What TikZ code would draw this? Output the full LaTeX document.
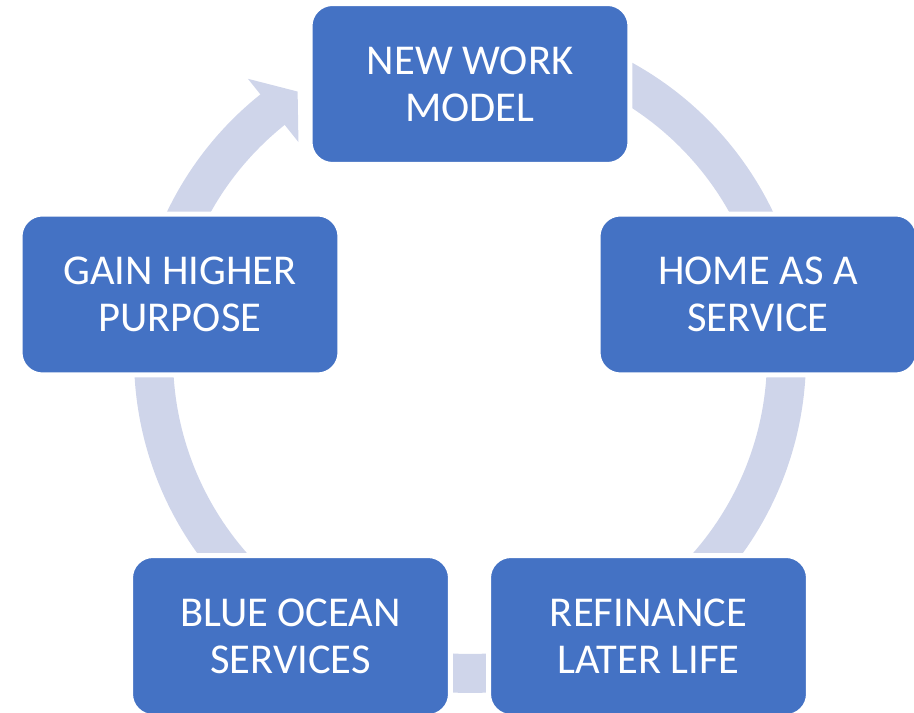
\documentclass[tikz,border=0pt]{standalone}
\usepackage{fontspec}
\setmainfont{Carlito}
\usepackage{tikz}
\usetikzlibrary{calc}
\usetikzlibrary{positioning}
\definecolor{boxblue}{HTML}{4472C4}
\definecolor{ringblue}{HTML}{CFD5EA}
\tikzstyle{stepnode} = [draw=white, line width=0.1cm, fill=boxblue, rounded corners=0.45cm, minimum width=6.4cm, minimum height=3.22cm, text=white, align=center, font=\fontsize{24.2}{26.7}\selectfont]
\tikzstyle{ringarc} = [draw=ringblue, line width=0.78cm]
\tikzstyle{ringhead} = [fill=ringblue]

\begin{document}
\begin{tikzpicture}[x=0.02cm, y=0.02cm]
    \useasboundingbox (0,0) rectangle (914,713);
    \coordinate (ring) at (470,356);
    % arcs of the cycle, clockwise
    \draw[ringarc] ($(ring)+(165:316.5)$) arc[start angle=165, end angle=128.3, radius=316.5];
    \fill[ringhead] ($(ring)+(128.6:275)$) -- ($(ring)+(123:316.5)$) -- ($(ring)+(128.6:356)$) -- cycle;
    \draw[ringarc] ($(ring)+(75:316.5)$) arc[start angle=75, end angle=17.3, radius=316.5];
    \fill[ringhead] ($(ring)+(17.6:275)$) -- ($(ring)+(12:316.5)$) -- ($(ring)+(17.6:356)$) -- cycle;
    \draw[ringarc] ($(ring)+(0:316.5)$) arc[start angle=0, end angle=-54.1, radius=316.5];
    \fill[ringhead] ($(ring)+(-54.4:275)$) -- ($(ring)+(-60:316.5)$) -- ($(ring)+(-54.4:356)$) -- cycle;
    \draw[ringarc] ($(ring)+(-75:316.5)$) arc[start angle=-75, end angle=-99.1, radius=316.5];
    \fill[ringhead] ($(ring)+(-99.4:275)$) -- ($(ring)+(-105:316.5)$) -- ($(ring)+(-99.4:356)$) -- cycle;
    \draw[ringarc] ($(ring)+(245:316.5)$) arc[start angle=245, end angle=180.9, radius=316.5];
    \fill[ringhead] ($(ring)+(180.6:275)$) -- ($(ring)+(175:316.5)$) -- ($(ring)+(180.6:356)$) -- cycle;
    % the five steps
    \node[stepnode] (work) at (470,629) {NEW WORK\\MODEL};
    \node[stepnode] (home) at ($(work)+(288,-210.5)$) {HOME AS A\\SERVICE};
    \node[stepnode] (refinance) at ($(work)+(178.5,-552)$) {REFINANCE\\LATER LIFE};
    \node[stepnode] (ocean) at ($(work)+(-179.5,-552)$) {BLUE OCEAN\\SERVICES};
    \node[stepnode] (purpose) at ($(work)+(-290,-210.5)$) {GAIN HIGHER\\PURPOSE};
\end{tikzpicture}
\end{document}
